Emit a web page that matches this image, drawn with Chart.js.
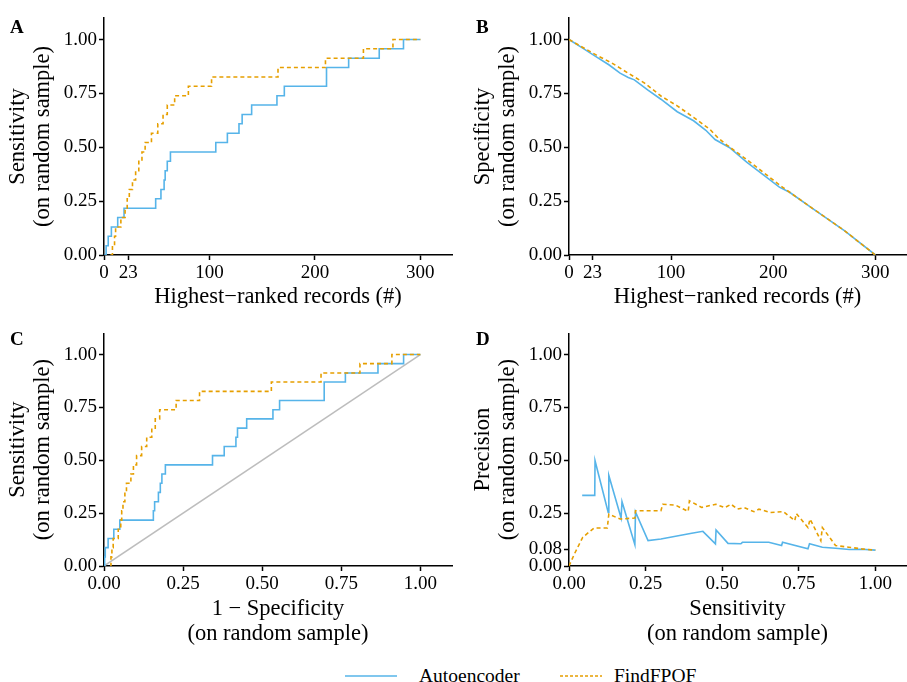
<!DOCTYPE html>
<html lang="en">
<head>
<meta charset="UTF-8" />
<title>Autoencoder vs FindFPOF</title>
<script src="https://cdn.jsdelivr.net/npm/chart.js"></script>
<style>
  body {
    margin: 0;
    background: #fff;
    width: 907px;
    height: 682px;
    position: relative;
    overflow: hidden;
    font-family: 'Liberation Serif', 'Times New Roman', serif;
    color: #000;
  }
  canvas { position: absolute; }
  .tag {
    position: absolute;
    font-weight: bold;
    font-size: 19px;
    line-height: 1;
  }
  .legend {
    position: absolute;
    top: 664px;
    font-size: 19.5px;
    line-height: 24px;
  }
  .legend svg { position: absolute; }
</style>
</head>
<body>

<canvas id="chartA" width="460" height="320" style="left:0;top:0"></canvas>
<canvas id="chartB" width="442" height="320" style="left:465px;top:0"></canvas>
<canvas id="chartC" width="460" height="340" style="left:0;top:320px"></canvas>
<canvas id="chartD" width="442" height="340" style="left:465px;top:320px"></canvas>

<div class="tag" style="left:10px;top:17px">A</div>
<div class="tag" style="left:476px;top:17px">B</div>
<div class="tag" style="left:10px;top:329px">C</div>
<div class="tag" style="left:476px;top:329px">D</div>

<div class="legend" style="left:0;width:907px;height:24px">
  <svg width="60" height="24" style="left:343px;top:0"><line x1="2" y1="12" x2="54" y2="12" stroke="#56B4E9" stroke-width="1.6"/></svg>
  <span style="position:absolute;left:419px;top:0">Autoencoder</span>
  <svg width="50" height="24" style="left:558px;top:0"><line x1="2" y1="12" x2="44" y2="12" stroke="#E69F00" stroke-width="1.6" stroke-dasharray="3,2"/></svg>
  <span style="position:absolute;left:614px;top:0">FindFPOF</span>
</div>

<script>
// tick positions
var rankTicks = [0, 23, 100, 200, 300];
var unitTicks = [0, 0.25, 0.5, 0.75, 1];
var precisionTicks = [0, 0.08, 0.25, 0.5, 0.75, 1];

// A: sensitivity by rank
var rankAutoA = [0, 2, 4, 7, 13, 19, 49, 54, 57, 58, 60, 63, 106, 117, 128, 131, 140, 164, 171, 211, 232, 261, 284, 300];
var sensAutoA = [0, 0.043, 0.087, 0.130, 0.174, 0.217, 0.261, 0.304, 0.348, 0.391, 0.435, 0.478, 0.522, 0.565, 0.609, 0.652, 0.696, 0.739, 0.783, 0.870, 0.913, 0.957, 1, 1];
var rankFpofA = [6, 8, 10, 11, 16, 20, 22, 24, 27, 30, 33, 36, 39, 45, 51, 56, 60, 67, 80, 102, 165, 210, 246, 274, 300];
var sensFpofA = [0, 0.043, 0.087, 0.130, 0.174, 0.217, 0.261, 0.304, 0.348, 0.391, 0.435, 0.478, 0.522, 0.565, 0.609, 0.652, 0.696, 0.739, 0.783, 0.826, 0.870, 0.913, 0.957, 1, 1];

// B: specificity by rank
var rankAutoB = [0, 13, 26, 39, 50, 58, 64, 77, 90, 106, 122, 134, 143, 157, 174, 206, 216, 238, 270, 300];
var specAutoB = [1, 0.961, 0.922, 0.883, 0.844, 0.824, 0.813, 0.766, 0.723, 0.665, 0.623, 0.579, 0.536, 0.499, 0.431, 0.315, 0.291, 0.218, 0.112, 0];
var rankFpofB = [0, 26, 42, 58, 74, 90, 106, 122, 138, 146, 155, 174, 209, 238, 270, 300];
var specFpofB = [1, 0.930, 0.891, 0.844, 0.798, 0.738, 0.692, 0.639, 0.583, 0.543, 0.509, 0.443, 0.315, 0.218, 0.112, 0];

// C: ROC
var fprAutoC = [0, 0.002, 0.004, 0.013, 0.031, 0.05, 0.156, 0.16, 0.172, 0.178, 0.183, 0.194, 0.343, 0.38, 0.417, 0.422, 0.451, 0.534, 0.555, 0.696, 0.763, 0.866, 0.947, 1];
var fprFpofC = [0.02, 0.022, 0.025, 0.029, 0.045, 0.053, 0.056, 0.06, 0.066, 0.071, 0.085, 0.093, 0.103, 0.119, 0.135, 0.151, 0.162, 0.176, 0.228, 0.302, 0.529, 0.686, 0.809, 0.91, 1];
var diagonal = [0, 1];

// D: precision by sensitivity
var sensAutoD = [0.043, 0.084, 0.085, 0.128, 0.13, 0.17, 0.173, 0.215, 0.217, 0.258, 0.30, 0.396, 0.437, 0.478, 0.48, 0.519, 0.561, 0.566, 0.652, 0.694, 0.697, 0.78, 0.785, 0.827, 0.87, 0.915, 0.955, 1.0];
var precAutoD = [0.334, 0.334, 0.498, 0.253, 0.428, 0.227, 0.304, 0.101, 0.256, 0.12, 0.128, 0.154, 0.164, 0.105, 0.17, 0.107, 0.105, 0.112, 0.112, 0.097, 0.112, 0.081, 0.105, 0.089, 0.084, 0.078, 0.079, 0.075];
var sensFpofD = [0, 0.018, 0.045, 0.082, 0.125, 0.13, 0.167, 0.215, 0.217, 0.3, 0.306, 0.348, 0.389, 0.393, 0.433, 0.479, 0.508, 0.529, 0.55, 0.572, 0.604, 0.62, 0.657, 0.7, 0.737, 0.742, 0.78, 0.787, 0.822, 0.827, 0.87, 0.913, 0.955, 1.0];
var precFpofD = [0, 0.058, 0.136, 0.18, 0.18, 0.245, 0.222, 0.227, 0.261, 0.261, 0.292, 0.2875, 0.258, 0.308, 0.277, 0.292, 0.276, 0.292, 0.269, 0.276, 0.257, 0.269, 0.253, 0.257, 0.214, 0.248, 0.182, 0.222, 0.12, 0.182, 0.097, 0.089, 0.081, 0.075];

var FONT = "'Liberation Serif', 'Times New Roman', serif";
var BLUE = '#56B4E9';
var ORANGE = '#E69F00';

function pts(xs, ys) {
  return xs.map(function (x, i) { return { x: x, y: ys[i] }; });
}

function two(v) { return v.toFixed(2); }
function whole(v) { return String(v); }

function axis(max, ticks, fmt, title, pad, size) {
  return {
    type: 'linear',
    min: 0,
    max: max,
    afterBuildTicks: function (s) { s.ticks = ticks.map(function (v) { return { value: v }; }); },
    afterFit: size,
    ticks: { color: '#000', font: { family: FONT, size: 19 }, padding: 2, callback: fmt, autoSkip: false, maxRotation: 0 },
    grid: { drawOnChartArea: false, drawTicks: true, tickLength: 5, tickWidth: 1.5, tickColor: '#000' },
    border: { display: true, color: '#000', width: 1.5 },
    title: { display: true, text: title, color: '#000', font: { family: FONT, size: 22.5, lineHeight: 1.11 }, padding: pad }
  };
}

function line(data, color, dashed, stepped, order) {
  return {
    data: data,
    borderColor: color,
    borderWidth: 1.6,
    borderDash: dashed ? [4, 3] : [],
    pointRadius: 0,
    fill: false,
    stepped: stepped,
    order: order
  };
}

function panel(id, datasets, xAxis, yAxis, top, right) {
  return new Chart(document.getElementById(id), {
    type: 'line',
    data: { datasets: datasets },
    options: {
      responsive: false,
      animation: false,
      layout: { padding: { top: top, right: right, left: 0, bottom: 0 } },
      plugins: { legend: { display: false }, tooltip: { enabled: false } },
      scales: { x: xAxis, y: yAxis }
    }
  });
}

var yWidth = function (s) { s.width = 104; };
var xTall = function (s) { s.height = 65; };
var xTaller = function (s) { s.height = 94; };

panel('chartA', [
  line(pts(rankAutoA, sensAutoA), BLUE, false, true, 2),
  line(pts(rankFpofA, sensFpofA), ORANGE, true, true, 1)
],
  axis(330, rankTicks, whole, 'Highest\u2212ranked records (#)', { top: 0, bottom: 10.5 }, xTall),
  axis(1.1, unitTicks, two, ['Sensitivity', '(on random sample)'], { top: 5.5, bottom: 0 }, yWidth),
  18, 8);

panel('chartB', [
  line(pts(rankAutoB, specAutoB), BLUE, false, false, 2),
  line(pts(rankFpofB, specFpofB), ORANGE, true, false, 1)
],
  axis(330, rankTicks, whole, 'Highest\u2212ranked records (#)', { top: 0, bottom: 10.5 }, xTall),
  axis(1.1, unitTicks, two, ['Specificity', '(on random sample)'], { top: 5.5, bottom: 0 }, yWidth),
  18, 1);

panel('chartC', [
  { data: pts(diagonal, diagonal), borderColor: '#bdbdbd', borderWidth: 1.5, pointRadius: 0, fill: false, order: 3 },
  line(pts(fprAutoC, sensAutoA), BLUE, false, true, 2),
  line(pts(fprFpofC, sensFpofA), ORANGE, true, true, 1)
],
  axis(1.1, unitTicks, two, ['1 \u2212 Specificity', '(on random sample)'], { top: 0, bottom: 13.5 }, xTaller),
  axis(1.1, unitTicks, two, ['Sensitivity', '(on random sample)'], { top: 5.5, bottom: 0 }, yWidth),
  10, 8);

panel('chartD', [
  line(pts(sensAutoD, precAutoD), BLUE, false, false, 2),
  line(pts(sensFpofD, precFpofD), ORANGE, true, false, 1)
],
  axis(1.1, unitTicks, two, ['Sensitivity', '(on random sample)'], { top: 0, bottom: 13.5 }, xTaller),
  axis(1.1, precisionTicks, two, ['Precision', '(on random sample)'], { top: 5.5, bottom: 0 }, yWidth),
  10, 1);
</script>

</body>
</html>
